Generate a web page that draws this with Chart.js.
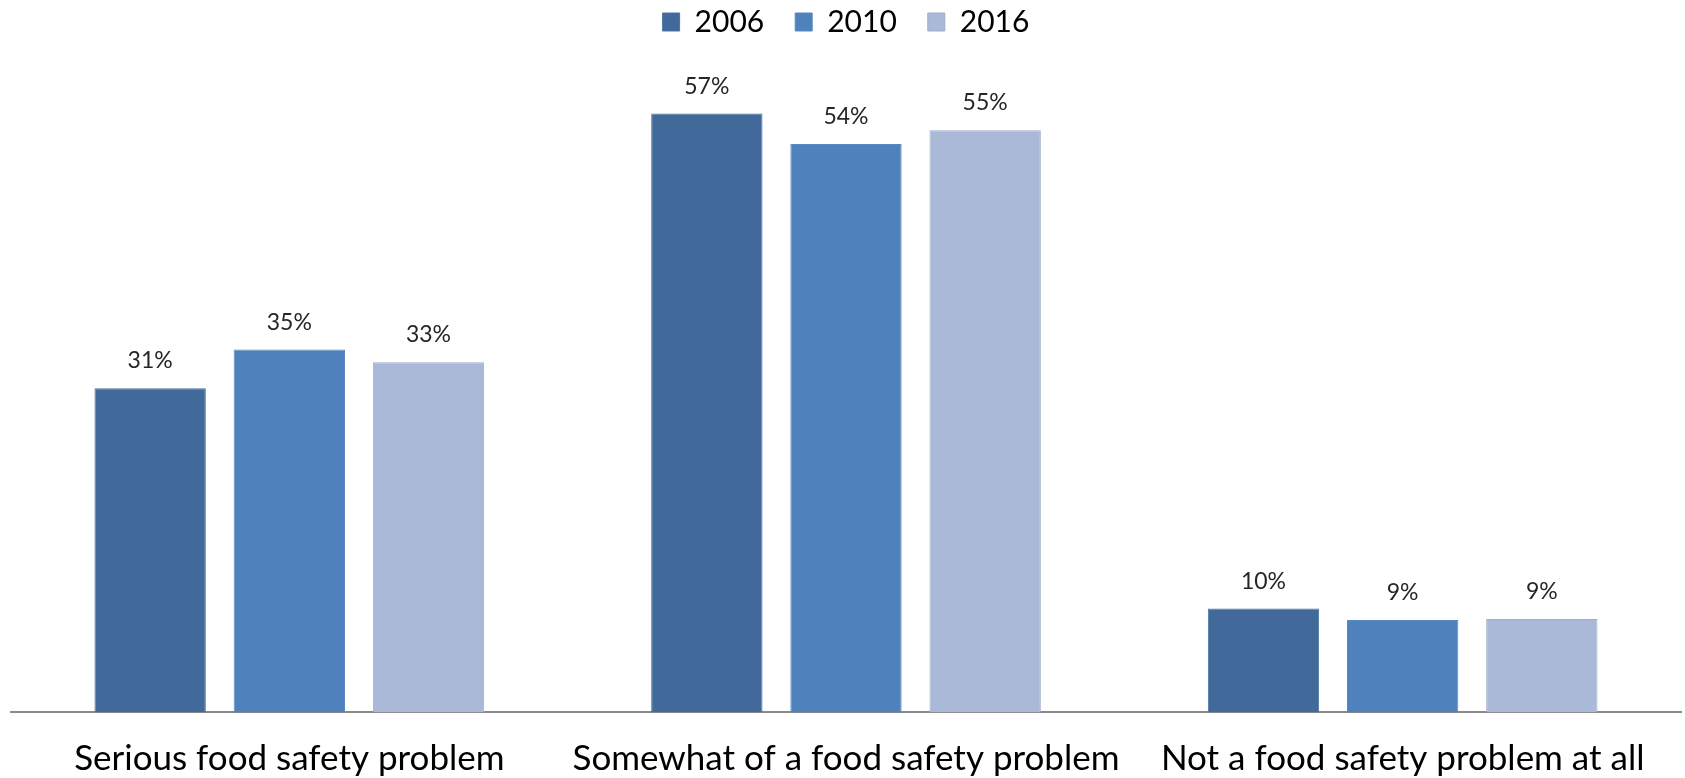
<!DOCTYPE html>
<html>
<head>
<meta charset="utf-8">
<script src="https://cdn.jsdelivr.net/npm/chart.js@4/dist/chart.umd.min.js"></script>
<style>
  html, body { margin: 0; padding: 0; background: #ffffff; }
  #wrap { width: 1685px; height: 778px; }
</style>
</head>
<body>
<div id="wrap"><canvas id="c" width="1685" height="778"></canvas></div>
<script>
const categories = ["Serious food safety problem", "Somewhat of a food safety problem", "Not a food safety problem at all"];
const seriesNames = ["2006", "2010", "2016"];
const values2006 = [30.9, 57.1, 9.9];
const values2010 = [34.6, 54.2, 8.8];
const values2016 = [33.4, 55.5, 8.9];
const labels2006 = [31, 57, 10];
const labels2010 = [35, 54, 9];
const labels2016 = [33, 55, 9];

const fills = ["#416a9b", "#4f81bd", "#aab9d7"];
const borders = ["#4a72a2", "#5a89c2", "#9eadcb"];

const seriesValues = [values2006, values2010, values2016];
const seriesLabels = [labels2006, labels2010, labels2016];

const valueLabelPlugin = {
  id: 'valueLabels',
  afterDatasetsDraw(chart) {
    const ctx = chart.ctx;
    ctx.save();
    ctx.font = '23px Lato';
    ctx.fillStyle = '#262626';
    ctx.textAlign = 'center';
    ctx.textBaseline = 'alphabetic';
    chart.data.datasets.forEach((ds, di) => {
      const meta = chart.getDatasetMeta(di);
      meta.data.forEach((bar, i) => {
        ctx.fillText(seriesLabels[di][i] + '%', bar.x, bar.y - 20);
      });
    });
    ctx.restore();
  }
};

new Chart(document.getElementById('c'), {
  type: 'bar',
  data: {
    labels: categories,
    datasets: seriesNames.map((name, i) => ({
      label: name,
      data: seriesValues[i],
      backgroundColor: fills[i],
      borderColor: borders[i],
      borderWidth: 1,
      categoryPercentage: 0.75,
      barPercentage: 0.8
    }))
  },
  options: {
    responsive: false,
    animation: false,
    layout: { padding: { left: 11, right: 4, top: -24, bottom: -26.4 } },
    plugins: {
      legend: {
        position: 'top',
        labels: {
          font: { family: 'Lato', size: 30 },
          color: '#000000',
          boxWidth: 17,
          boxHeight: 18,
          padding: 31
        }
      },
      tooltip: { enabled: false }
    },
    scales: {
      x: {
        grid: { display: false, drawTicks: false },
        border: { display: true, color: '#8a8a8a', width: 2 },
        ticks: {
          font: { family: 'Lato', size: 35 },
          color: '#000000',
          padding: 25,
          maxRotation: 0,
          autoSkip: false
        }
      },
      y: {
        display: false,
        min: 0,
        max: 63.45
      }
    }
  },
  plugins: [valueLabelPlugin]
});
</script>
</body>
</html>
